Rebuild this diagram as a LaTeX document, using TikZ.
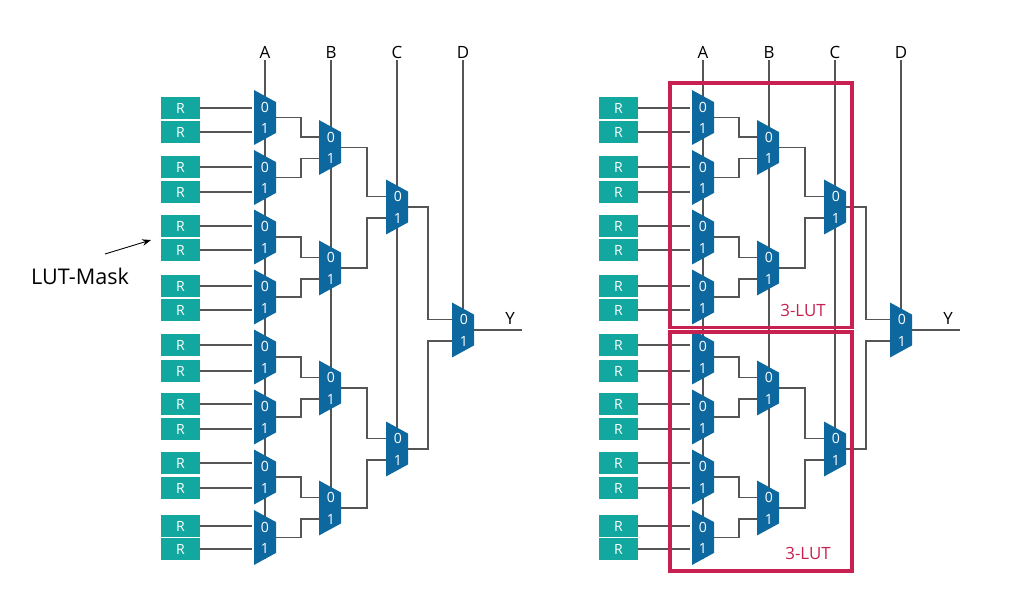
\documentclass[tikz,border=0pt]{standalone}
\usepackage{fontspec}
\setmainfont{Open Sans}
\definecolor{muxblue}{RGB}{14,104,160}
\definecolor{regteal}{RGB}{18,168,160}
\definecolor{lutred}{RGB}{200,32,80}
\definecolor{wiregray}{RGB}{85,85,85}
\usetikzlibrary{arrows.meta,positioning,shapes.geometric,calc,backgrounds}

\begin{document}
\begin{tikzpicture}[x=0.02cm,y=-0.02cm,
        muxbox/.style={trapezium, trapezium stretches=true, shape border rotate=270,
                       trapezium left angle=63.4, trapezium right angle=63.4,
                       fill=muxblue, inner sep=0pt, outer sep=0pt,
                       minimum width=1.1cm, minimum height=0.44cm},
        regbox/.style={rectangle, fill=regteal, text=white, inner sep=0pt,
                       minimum width=0.78cm, minimum height=0.45cm, font=\fontsize{8}{9}\selectfont},
        bitlbl/.style={text=white, inner sep=0pt, font=\fontsize{8}{9}\selectfont},
        sellbl/.style={inner sep=1pt, font=\fontsize{9.6}{11}\selectfont},
        wire/.style={wiregray, line width=0.7pt},
        lutbox/.style={rectangle, draw=lutred, line width=2.1pt, inner sep=0pt},
        lutlbl/.style={text=lutred, inner sep=0pt, font=\fontsize{9.6}{11}\selectfont}
      ]
        \useasboundingbox (0,0) rectangle (1024,608);
        % both 4-input trees, the second one is shifted to the right
        \foreach \p/\dx in {l/0,r/438}{
          \begin{scope}[shift={(\dx,0)}]
            % select inputs
            \foreach \s/\t/\x in {a/A/265,b/B/331,c/C/397,d/D/463}
              \node[sellbl] (\p s\s) at (\x,52) {\t};
            % first stage with its registers
            \foreach \i/\y/\yz/\yo in {1/117.5/108/132,2/177.5/167/192,3/237/226/250,4/297/286/310,
                                       5/357/345/371,6/417/404/429,7/477/463/488,8/537.5/526/549}{
              \node[muxbox] (\p a\i) at (265,\y) {\phantom{0}};
              \node[bitlbl] (\p a\i z) at ($(\p a\i)+(0,-10.5)$) {0};
              \node[bitlbl] (\p a\i o) at ($(\p a\i)+(0,11)$) {1};
              \node[regbox] (\p r\i z) at (180.5,\yz) {R};
              \node[regbox] (\p r\i o) at (180.5,\yo) {R};
              \begin{scope}[on background layer]
                \draw[wire] (\p r\i z.east) -- ($(\p r\i z.east -| \p a\i.west)+(-2,0)$);
                \draw[wire] (\p r\i o.east) -- ($(\p r\i o.east -| \p a\i.west)+(-2,0)$);
              \end{scope}
            }
            % second, third and last stage
            \foreach \m/\x/\y in {b1/330/147.5,b2/330/268,b3/330/388,b4/330/508,c1/397/207,c2/397/449,d1/463/330}{
              \node[muxbox] (\p\m) at (\x,\y) {\phantom{0}};
              \node[bitlbl] (\p\m z) at ($(\p\m)+(1,-10.5)$) {0};
              \node[bitlbl] (\p\m o) at ($(\p\m)+(1,11)$) {1};
            }
            \begin{scope}[on background layer]
              \foreach \u/\v/\w/\g in {a1/b1/z/25,a2/b1/o/25,a3/b2/z/25,a4/b2/o/25,a5/b3/z/25,a6/b3/o/25,a7/b4/z/25,a8/b4/o/25,
                                       b1/c1/z/26,b2/c1/o/26,b3/c2/z/26,b4/c2/o/26,c1/d1/z/20,c2/d1/o/20}
                \draw[wire] (\p\u.east) -- ++(\g,0) |- (\p\v\w -| \p\v.west);
              \draw[wire] (\p sa.south) -- (\p sa.south |- \p a8.south);
              \draw[wire] (\p sb.south) -- (\p sb.south |- \p b4);
              \draw[wire] (\p sc.south) -- (\p sc.south |- \p c2);
              \draw[wire] (\p sd.south) -- (\p sd.south |- \p d1);
            \end{scope}
            \node[sellbl] (\p y) at (510,318) {Y};
            \coordinate (\p yend) at (522,330);
            \draw[wire] (\p d1.east) -- (\p d1.east -| \p yend);
          \end{scope}
        }
        % LUT-Mask pointer
        \node[font=\fontsize{12.3}{14}\selectfont, inner sep=0pt] (mask) at (80,276) {LUT-Mask};
        \coordinate (masktail) at (105,254);
        \coordinate (masktip) at (151,240);
        \draw[-{Stealth[length=5pt]}, line width=0.5pt] (masktail) -- (masktip);
        % the two 3-LUT frames
        \node[lutbox, minimum width=3.64cm, minimum height=4.898cm] (lutup) at (761,205.15) {};
        \node[lutbox, minimum width=3.64cm, minimum height=4.782cm] (lutdn) at (761,451.45) {};
        \node[lutlbl] (lutupl) at (803,310) {3-LUT};
        \node[lutlbl] (lutdnl) at (808,553) {3-LUT};
      \end{tikzpicture}
\end{document}
